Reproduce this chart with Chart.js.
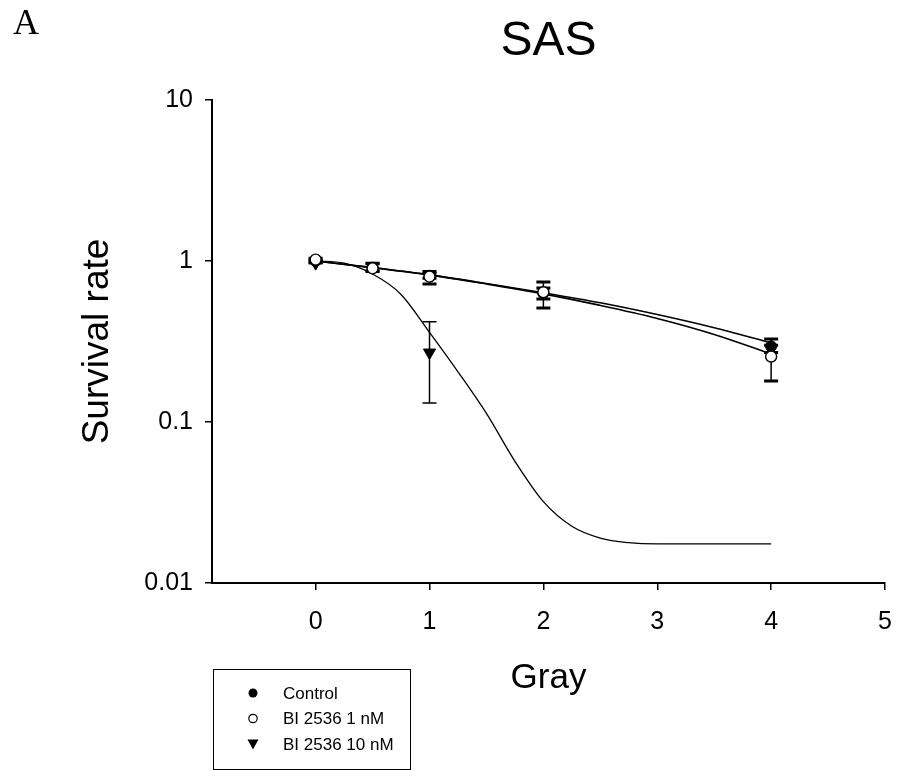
<!DOCTYPE html>
<html>
<head>
<meta charset="utf-8">
<script src="https://cdn.jsdelivr.net/npm/chart.js@4/dist/chart.umd.min.js"></script>
<style>
  html, body { margin: 0; padding: 0; background: #fff; }
  #wrap { position: relative; width: 899px; height: 771px; }
</style>
</head>
<body>
<div id="wrap"><canvas id="sas_grafica" width="899" height="771"></canvas></div>
<script>
// puntos medidos (dosis en Gy)
const dosis = [0, 0.5, 1, 2, 4];
const control = [1.0, 0.91, 0.81, 0.63, 0.295];
const control_lo = [0.98, 0.86, 0.78, 0.58, 0.27];
const control_hi = [1.02, 0.96, 0.84, 0.68, 0.328];
const bi1 = [1.02, 0.9, 0.8, 0.64, 0.255];
const bi1_lo = [1.0, 0.87, 0.72, 0.51, 0.18];
const bi1_hi = [1.04, 0.97, 0.86, 0.74, 0.3];
const dosis10 = [0, 1];
const bi10 = [0.97, 0.27];
const bi10_lo = [0.96, 0.131];
const bi10_hi = [0.98, 0.42];

// curvas ajustadas
const curva_dosis = [0, 0.5, 1, 1.5, 2, 2.5, 3, 3.5, 4];
const curva_control = [1.0, 0.91, 0.82, 0.725, 0.635, 0.55, 0.465, 0.385, 0.31];
const curva_bi1 = [1.0, 0.91, 0.82, 0.72, 0.625, 0.53, 0.44, 0.35, 0.265];
const curva10_dosis = [0, 0.25, 0.5, 0.75, 1, 1.25, 1.5, 1.75, 2, 2.25, 2.5, 2.75, 3, 3.5, 4];
const curva_bi10 = [1.0, 0.97, 0.83, 0.62, 0.36, 0.205, 0.113, 0.057, 0.032, 0.0225, 0.019, 0.0178, 0.0175, 0.0175, 0.0175];

const ticks_x = [0, 1, 2, 3, 4, 5];
const ticks_y = [0.01, 0.1, 1, 10];
const leyenda = ['Control', 'BI 2536 1 nM', 'BI 2536 10 nM'];

const pts = (xs, ys) => xs.map((x, i) => ({x, y: ys[i]}));

const barrasError = {
  id: 'barrasError',
  beforeDatasetsDraw(chart) {
    const {ctx, scales: {x, y}} = chart;
    ctx.save();
    ctx.strokeStyle = '#000';
    chart.data.datasets.forEach(ds => {
      if (!ds.errLo) return;
      ds.data.forEach((p, i) => {
        const px = x.getPixelForValue(p.x);
        const yl = y.getPixelForValue(ds.errLo[i]);
        const yh = y.getPixelForValue(ds.errHi[i]);
        ctx.lineWidth = 1.5;
        ctx.beginPath();
        ctx.moveTo(px, yl); ctx.lineTo(px, yh);
        ctx.stroke();
        ctx.lineWidth = ds.capWidth;
        ctx.beginPath();
        ctx.moveTo(px - 7, yl); ctx.lineTo(px + 7, yl);
        ctx.moveTo(px - 7, yh); ctx.lineTo(px + 7, yh);
        ctx.stroke();
      });
    });
    ctx.restore();
  }
};

const textos = {
  id: 'textos',
  afterDraw(chart) {
    const {ctx, chartArea} = chart;
    ctx.save();
    ctx.fillStyle = '#000';
    ctx.textAlign = 'center';
    ctx.textBaseline = 'alphabetic';
    ctx.font = '48px "Liberation Sans", Arial, sans-serif';
    ctx.fillText('SAS', (chartArea.left + chartArea.right) / 2, 55);
    ctx.textAlign = 'left';
    ctx.font = '36px "Liberation Serif", "Times New Roman", serif';
    ctx.fillText('A', 13, 34);

    // leyenda
    ctx.lineWidth = 1;
    ctx.strokeStyle = '#000';
    ctx.strokeRect(213.5, 669.5, 197, 100);
    ctx.font = '17px "Liberation Sans", Arial, sans-serif';
    ctx.textBaseline = 'middle';
    leyenda.forEach((t, i) => {
      const yy = 693 + i * 25.5;
      const mx = 253;
      ctx.beginPath();
      if (i === 0) {
        ctx.arc(mx, yy, 4.5, 0, Math.PI * 2);
        ctx.fill();
      } else if (i === 1) {
        ctx.lineWidth = 1.2;
        ctx.arc(mx, yy, 4.2, 0, Math.PI * 2);
        ctx.stroke();
      } else {
        ctx.moveTo(mx - 5.5, yy - 4.5);
        ctx.lineTo(mx + 5.5, yy - 4.5);
        ctx.lineTo(mx, yy + 5.5);
        ctx.closePath();
        ctx.fill();
      }
      ctx.fillText(t, 283, yy + 1);
    });
    ctx.restore();
  }
};

const ctx1 = document.getElementById('sas_grafica').getContext('2d');

new Chart(ctx1, {
  type: 'scatter',
  data: {
    datasets: [
      {
        label: leyenda[1],
        data: pts(dosis, bi1),
        errLo: bi1_lo, errHi: bi1_hi, capWidth: 3,
        pointStyle: 'circle', pointRadius: 5.5,
        backgroundColor: '#fff', borderColor: '#000', borderWidth: 1.4,
        showLine: false
      },
      {
        label: leyenda[0],
        data: pts(dosis, control),
        errLo: control_lo, errHi: control_hi, capWidth: 3,
        pointStyle: 'circle', pointRadius: 5.5,
        backgroundColor: '#000', borderColor: '#000', borderWidth: 1,
        showLine: false
      },
      {
        label: leyenda[2],
        data: pts(dosis10, bi10),
        errLo: bi10_lo, errHi: bi10_hi, capWidth: 1.5,
        pointStyle: 'triangle', pointRotation: 180, pointRadius: 7,
        backgroundColor: '#000', borderColor: '#000', borderWidth: 1,
        showLine: false
      },
      {
        label: 'ajuste control',
        data: pts(curva_dosis, curva_control),
        showLine: true, pointRadius: 0, borderColor: '#000', borderWidth: 1.6,
        cubicInterpolationMode: 'monotone'
      },
      {
        label: 'ajuste 1 nM',
        data: pts(curva_dosis, curva_bi1),
        showLine: true, pointRadius: 0, borderColor: '#000', borderWidth: 1.6,
        cubicInterpolationMode: 'monotone'
      },
      {
        label: 'ajuste 10 nM',
        data: pts(curva10_dosis, curva_bi10),
        showLine: true, pointRadius: 0, borderColor: '#000', borderWidth: 1.3,
        cubicInterpolationMode: 'monotone'
      }
    ]
  },
  options: {
    responsive: false,
    animation: false,
    layout: { padding: { top: 100, right: 14, left: 0, bottom: 0 } },
    plugins: {
      legend: { display: false },
      tooltip: { enabled: false },
      title: { display: false }
    },
    scales: {
      x: {
        type: 'linear',
        min: -0.91,
        max: 5,
        afterBuildTicks: s => { s.ticks = ticks_x.map(v => ({value: v})); },
        afterFit: s => { s.height = 188; s.paddingLeft = 0; s.paddingRight = 0; },
        ticks: {
          color: '#000',
          padding: 17,
          maxRotation: 0,
          font: { size: 25, family: '"Liberation Sans", Arial, sans-serif' },
          callback: v => String(v)
        },
        grid: { drawOnChartArea: false, tickLength: 7, color: '#000', lineWidth: 1.5 },
        border: { color: '#000', width: 2 },
        title: {
          display: true,
          text: 'Gray',
          color: '#000',
          font: { size: 35, family: '"Liberation Sans", Arial, sans-serif' },
          padding: { top: 0, bottom: 72 }
        }
      },
      y: {
        type: 'logarithmic',
        min: 0.01,
        max: 10,
        afterBuildTicks: s => { s.ticks = ticks_y.map(v => ({value: v})); },
        afterFit: s => { s.width = 212; s.paddingTop = 0; s.paddingBottom = 0; },
        ticks: {
          color: '#000',
          padding: 12,
          font: { size: 25, family: '"Liberation Sans", Arial, sans-serif' },
          callback: v => String(v)
        },
        grid: { drawOnChartArea: false, tickLength: 7, color: '#000', lineWidth: 1.5 },
        border: { color: '#000', width: 2 },
        title: {
          display: true,
          text: 'Survival rate',
          color: '#000',
          font: { size: 37, family: '"Liberation Sans", Arial, sans-serif' },
          padding: { top: 76, bottom: 0 }
        }
      }
    }
  },
  plugins: [barrasError, textos]
});
</script>
</body>
</html>
